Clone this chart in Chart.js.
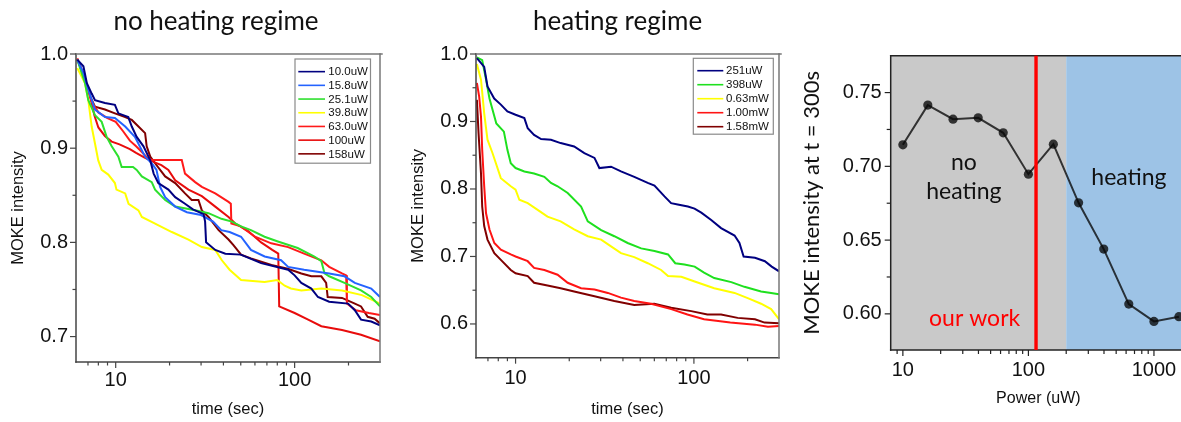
<!DOCTYPE html>
<html>
<head>
<meta charset="utf-8">
<script src="https://cdn.jsdelivr.net/npm/chart.js@4.4.1/dist/chart.umd.min.js"></script>
<style>
  html, body { margin: 0; padding: 0; overflow: hidden; background: #fff; width: 1181px; height: 422px; }
  canvas { position: absolute; top: 0; }
</style>
</head>
<body>
<canvas id="c1" width="400" height="422" style="left:0px"></canvas>
<canvas id="c2" width="400" height="422" style="left:400px"></canvas>
<canvas id="c3" width="400" height="422" style="left:800px"></canvas>
<script>
// ---------------- DATA ----------------
// Panel 1: no heating regime (time in s, normalized MOKE intensity)
const labels1 = ['10.0uW', '15.8uW', '25.1uW', '39.8uW', '63.0uW', '100uW', '158uW'];
const t_10uW = [6.1, 6.6, 6.9, 7.34, 7.66, 8.71, 9.9, 10.35, 11.76, 12.3, 13.1, 14.3, 15.6, 16.3, 17.3, 19.7, 21.5, 24.4, 27, 31, 31.6, 32, 36, 41, 50, 65, 92, 100, 109, 124, 135, 156, 199, 217, 235, 268, 300];
const v_10uW = [0.994, 0.987, 0.969, 0.958, 0.951, 0.948, 0.946, 0.937, 0.933, 0.923, 0.912, 0.902, 0.887, 0.873, 0.863, 0.856, 0.848, 0.841, 0.835, 0.830, 0.822, 0.800, 0.792, 0.788, 0.787, 0.778, 0.771, 0.765, 0.757, 0.751, 0.742, 0.737, 0.735, 0.728, 0.718, 0.716, 0.712];
const t_15uW = [6.1, 6.6, 7.03, 7.66, 8.71, 9.9, 11.3, 12.8, 14.6, 15.9, 16.9, 17.7, 18.9, 21.5, 25, 30, 35, 38.9, 43.3, 50.2, 57, 68, 84, 92, 113, 156, 190, 217, 268, 300];
const v_15uW = [0.994, 0.980, 0.962, 0.941, 0.933, 0.932, 0.923, 0.912, 0.891, 0.884, 0.877, 0.859, 0.848, 0.838, 0.832, 0.829, 0.822, 0.813, 0.811, 0.806, 0.792, 0.785, 0.781, 0.774, 0.771, 0.767, 0.764, 0.757, 0.751, 0.742];
const t_25uW = [6.1, 6.74, 7.03, 7.66, 8.35, 8.9, 9.5, 10.35, 10.8, 12.5, 13.1, 14.0, 15.9, 16.6, 18.9, 21.5, 27.8, 33, 39, 44.6, 50.2, 57, 67.9, 80.6, 104, 129, 141, 147, 156, 190, 235, 268, 300];
const v_25uW = [0.994, 0.969, 0.951, 0.935, 0.928, 0.912, 0.902, 0.891, 0.880, 0.880, 0.877, 0.870, 0.864, 0.856, 0.845, 0.838, 0.834, 0.831, 0.825, 0.822, 0.817, 0.813, 0.806, 0.801, 0.794, 0.785, 0.780, 0.767, 0.764, 0.757, 0.749, 0.742, 0.732];
const t_40uW = [6.1, 6.74, 7.03, 7.34, 7.66, 7.99, 8.35, 9.09, 9.9, 10.1, 11.3, 11.8, 13.4, 14.0, 16.6, 20.6, 25.5, 30.3, 36, 39.2, 43.3, 50.2, 67.9, 80, 88, 95.3, 109, 141, 184, 238, 300];
const v_40uW = [0.985, 0.969, 0.951, 0.923, 0.905, 0.887, 0.877, 0.872, 0.863, 0.856, 0.852, 0.841, 0.834, 0.827, 0.820, 0.811, 0.803, 0.795, 0.792, 0.781, 0.771, 0.760, 0.758, 0.760, 0.754, 0.751, 0.749, 0.751, 0.749, 0.744, 0.735];
const t_63uW = [6.1, 6.7, 7.3, 8, 9, 10, 11, 12, 13, 14, 15, 15.9, 23.4, 24.4, 27.8, 30.3, 36, 42.7, 44, 44.3, 50, 60, 74, 92, 113, 141, 156, 184, 194, 196, 220, 260, 300];
const v_63uW = [0.995, 0.975, 0.950, 0.938, 0.932, 0.928, 0.918, 0.908, 0.902, 0.896, 0.890, 0.8875, 0.8875, 0.873, 0.864, 0.859, 0.852, 0.843, 0.841, 0.820, 0.817, 0.806, 0.799, 0.795, 0.788, 0.781, 0.774, 0.767, 0.765, 0.735, 0.728, 0.725, 0.723];
const t_100uW = [6.1, 6.7, 7.2, 7.6, 8, 8.7, 9.5, 10.5, 12, 13, 14.5, 16, 18, 19.7, 21.5, 25.5, 30.3, 36, 42.7, 46.6, 55, 65, 75, 81, 82, 100, 119, 141, 184, 235, 300];
const v_100uW = [0.995, 0.975, 0.955, 0.935, 0.922, 0.913, 0.907, 0.904, 0.899, 0.895, 0.890, 0.886, 0.882, 0.877, 0.866, 0.856, 0.849, 0.838, 0.827, 0.820, 0.812, 0.800, 0.792, 0.788, 0.732, 0.725, 0.718, 0.711, 0.707, 0.702, 0.695];
const t_158uW = [6.1, 6.7, 7.2, 7.66, 8.71, 9.9, 11.3, 12.3, 13.4, 14.6, 14.9, 15.6, 16.6, 18.9, 21.5, 24.4, 26.6, 29, 30.3, 33, 37.6, 42.7, 45.5, 50.2, 57, 74.2, 91.6, 109, 124, 141, 150, 153, 184, 217, 235, 256, 280, 300];
const v_158uW = [0.994, 0.975, 0.955, 0.944, 0.941, 0.937, 0.933, 0.930, 0.923, 0.916, 0.902, 0.891, 0.884, 0.870, 0.863, 0.852, 0.845, 0.845, 0.834, 0.827, 0.813, 0.803, 0.797, 0.787, 0.783, 0.776, 0.772, 0.767, 0.764, 0.764, 0.757, 0.742, 0.741, 0.735, 0.732, 0.721, 0.719, 0.714];
const colors1 = ['#000080', '#2463FF', '#2EE02E', '#FFFF00', '#FF1A1A', '#E80C0C', '#800000'];

// Panel 2: heating regime
const labels2 = ['251uW', '398uW', '0.63mW', '1.00mW', '1.58mW'];
const t_251uW = [6.07, 6.67, 6.96, 7.59, 8.27, 9.0, 10, 11.2, 11.7, 12.7, 13.9, 15.8, 17.9, 21.3, 24.3, 27.7, 29.5, 34.3, 39, 46.3, 55.1, 60.1, 68.4, 74.5, 81.1, 92.5, 100.8, 110, 125, 142, 169, 180, 190, 220, 250, 273, 300];
const v_251uW = [0.994, 0.981, 0.952, 0.934, 0.925, 0.915, 0.910, 0.905, 0.890, 0.880, 0.874, 0.873, 0.868, 0.863, 0.853, 0.846, 0.831, 0.833, 0.826, 0.818, 0.809, 0.805, 0.789, 0.779, 0.777, 0.774, 0.771, 0.765, 0.754, 0.742, 0.731, 0.720, 0.700, 0.698, 0.693, 0.685, 0.678];
const t_398uW = [6.07, 6.5, 6.83, 7.14, 7.8, 8.6, 9.0, 9.4, 10, 11.2, 12.7, 14.5, 15.8, 17.2, 19.6, 23.3, 25.4, 30.2, 35.8, 42.5, 50.6, 60.1, 71.6, 78.6, 88.5, 101, 114, 130, 162, 192, 238, 271, 300];
const v_398uW = [0.995, 0.991, 0.962, 0.934, 0.897, 0.885, 0.858, 0.838, 0.831, 0.826, 0.823, 0.818, 0.809, 0.804, 0.794, 0.774, 0.752, 0.739, 0.730, 0.720, 0.712, 0.708, 0.703, 0.690, 0.688, 0.685, 0.676, 0.668, 0.662, 0.655, 0.648, 0.646, 0.644];
const t_630uW = [6.07, 6.4, 6.67, 6.96, 7.43, 8.27, 9.4, 10, 10.5, 11.7, 13.3, 15.1, 17.9, 21.3, 25.4, 30.2, 34.3, 39, 46.3, 55.1, 65.5, 71.6, 85, 101, 130, 169, 202, 238, 271, 300];
const v_630uW = [0.985, 0.962, 0.912, 0.873, 0.853, 0.816, 0.804, 0.799, 0.784, 0.779, 0.769, 0.759, 0.752, 0.740, 0.730, 0.725, 0.715, 0.705, 0.699, 0.690, 0.680, 0.671, 0.670, 0.663, 0.653, 0.646, 0.638, 0.630, 0.622, 0.607];
const t_1000uW = [6.07, 6.25, 6.4, 6.5, 6.67, 6.83, 7.14, 7.6, 8.27, 9.4, 10, 11.7, 12.7, 14.5, 17.2, 19.6, 23.3, 27.7, 32.9, 39, 46.3, 57.5, 74.6, 92, 114, 160, 220, 260, 300];
const v_1000uW = [0.957, 0.937, 0.907, 0.858, 0.804, 0.764, 0.740, 0.720, 0.710, 0.703, 0.700, 0.693, 0.683, 0.680, 0.673, 0.661, 0.653, 0.651, 0.646, 0.639, 0.634, 0.630, 0.622, 0.614, 0.607, 0.602, 0.599, 0.596, 0.597];
const t_1580uW = [6.07, 6.2, 6.4, 6.5, 6.67, 6.96, 7.6, 8.27, 9.4, 10, 11.7, 12.7, 15.1, 17.9, 21.3, 27.7, 35.8, 46.3, 60, 74.6, 96.6, 119, 142, 176, 220, 249, 300];
const v_1580uW = [0.932, 0.883, 0.823, 0.774, 0.745, 0.725, 0.705, 0.695, 0.680, 0.675, 0.671, 0.661, 0.657, 0.653, 0.648, 0.641, 0.634, 0.628, 0.630, 0.624, 0.619, 0.614, 0.614, 0.609, 0.607, 0.602, 0.601];
const colors2 = ['#000080', '#1EE01E', '#FFFF00', '#FF1414', '#800000'];

// Panel 3: MOKE intensity at t = 300 s vs power
const power = [10, 15.8, 25.1, 39.8, 63.0, 100, 158, 251, 398, 630, 1000, 1580];
const moke300 = [0.7146, 0.7415, 0.732, 0.7329, 0.7227, 0.6947, 0.715, 0.6753, 0.6439, 0.6066, 0.5949, 0.5981];
const heatingOnset = 200;   // uW, boundary of the heating region
const ourWorkPower = 115;   // uW, red marker line

// Ticks
const xMajor12 = [10, 100];
const xMinor12 = [7, 8, 9, 20, 30, 40, 50, 60, 70, 80, 90, 200, 300];
const yMajor1 = [0.7, 0.8, 0.9, 1.0];
const yMinor1 = [0.75, 0.85, 0.95];
const yMajor2 = [0.6, 0.7, 0.8, 0.9, 1.0];
const yMinor2 = [0.65, 0.75, 0.85, 0.95];
const xMajor3 = [10, 100, 1000];
const xMinor3 = [8, 9, 20, 30, 40, 50, 60, 70, 80, 90, 200, 300, 400, 500, 600, 700, 800, 900];
const yMajor3 = [0.60, 0.65, 0.70, 0.75];
const yMinor3 = [0.625, 0.675, 0.725];

// ---------------- HELPERS / PLUGINS ----------------
const ARIAL = "'Liberation Sans', Arial, sans-serif";
const CAL = "Lato, 'Noto Sans', sans-serif";
Chart.defaults.font.family = ARIAL;
Chart.defaults.color = '#111';

function pts(t, v) { return t.map((x, i) => ({ x: x, y: v[i] })); }
function seg(ctx, x0, y0, x1, y1) { ctx.beginPath(); ctx.moveTo(x0, y0); ctx.lineTo(x1, y1); ctx.stroke(); }

const framePlugin = {
  id: 'frame',
  afterDatasetsDraw(chart, args, o) {
    const { ctx, chartArea: a } = chart;
    const xs = chart.scales.x, ys = chart.scales.y;
    ctx.save();
    ctx.lineWidth = o.width;
    ctx.strokeStyle = o.color;
    ctx.lineCap = 'square';
    if (o.sides.includes('l')) seg(ctx, a.left, a.top, a.left, a.bottom);
    if (o.sides.includes('b')) seg(ctx, a.left, a.bottom, a.right, a.bottom);
    ctx.strokeStyle = o.color2 || o.color;
    if (o.sides.includes('t')) seg(ctx, a.left, a.top, a.right + 2, a.top);
    if (o.sides.includes('r')) seg(ctx, a.right, a.top, a.right, a.bottom);
    ctx.strokeStyle = o.color;
    ctx.lineCap = 'butt';
    ctx.lineWidth = 1.2;
    o.xMajor.forEach(v => { const p = xs.getPixelForValue(v); seg(ctx, p, a.bottom, p, a.bottom + o.major); });
    o.xMinor.forEach(v => { const p = xs.getPixelForValue(v); if (p > a.left + 1 && p < a.right - 1) seg(ctx, p, a.bottom, p, a.bottom + o.minor); });
    o.yMajor.forEach(v => { const p = ys.getPixelForValue(v); seg(ctx, a.left - o.major, p, a.left, p); });
    o.yMinor.forEach(v => { const p = ys.getPixelForValue(v); seg(ctx, a.left - o.minor, p, a.left, p); });
    ctx.restore();
  }
};

const boxLegend = {
  id: 'boxLegend',
  afterDraw(chart, args, o) {
    if (!o.show) return;
    const { ctx, chartArea: a } = chart;
    const ds = chart.data.datasets;
    const x1 = a.right - o.right, x0 = x1 - o.width, y0 = a.top + o.top;
    const h = o.padTop + ds.length * o.rowH + o.padBottom;
    ctx.save();
    ctx.fillStyle = '#fff';
    ctx.fillRect(x0, y0, o.width, h);
    ctx.strokeStyle = '#8a8a8a';
    ctx.lineWidth = 1.2;
    ctx.strokeRect(x0, y0, o.width, h);
    ctx.font = o.font;
    ctx.textBaseline = 'middle';
    ctx.textAlign = 'left';
    ds.forEach((d, i) => {
      const y = y0 + o.padTop + o.rowH * (i + 0.5);
      ctx.strokeStyle = d.borderColor;
      ctx.lineWidth = 1.6;
      seg(ctx, x0 + o.lineStart, y, x0 + o.lineEnd, y);
      ctx.fillStyle = '#111';
      ctx.fillText(d.label, x0 + o.textStart, y + 0.5);
    });
    ctx.restore();
  }
};

const panelTitle = {
  id: 'panelTitle',
  afterDraw(chart, args, o) {
    if (!o.text) return;
    const ctx = chart.ctx;
    ctx.save();
    ctx.font = o.font;
    ctx.fillStyle = '#111';
    ctx.textAlign = 'center';
    ctx.textBaseline = 'alphabetic';
    ctx.fillText(o.text, o.x, o.y);
    ctx.restore();
  }
};

const regions = {
  id: 'regions',
  beforeDatasetsDraw(chart, args, o) {
    if (!o.show) return;
    const { ctx, chartArea: a } = chart;
    const xs = chart.scales.x;
    const xb = xs.getPixelForValue(o.split);
    ctx.save();
    ctx.fillStyle = o.left;
    ctx.fillRect(a.left, a.top, xb - a.left, a.bottom - a.top);
    ctx.fillStyle = o.right;
    ctx.fillRect(xb, a.top, a.right - xb, a.bottom - a.top);
    ctx.restore();
  },
  afterDatasetsDraw(chart, args, o) {
    if (!o.show) return;
    const { ctx, chartArea: a } = chart;
    const xs = chart.scales.x, ys = chart.scales.y;
    ctx.save();
    const xr = xs.getPixelForValue(o.marker);
    ctx.strokeStyle = '#FF0000';
    ctx.lineWidth = 3.4;
    seg(ctx, xr, a.top, xr, a.bottom);
    ctx.textAlign = 'center';
    ctx.textBaseline = 'alphabetic';
    o.notes.forEach(n => {
      ctx.font = o.font;
      ctx.fillStyle = n.color || '#111';
      ctx.fillText(n.text, xs.getPixelForValue(n.x), ys.getPixelForValue(n.y));
    });
    ctx.restore();
  }
};

Chart.register(framePlugin, boxLegend, panelTitle, regions);

function curveSets(list) {
  return list.map(s => ({
    label: s[0], data: pts(s[1], s[2]), borderColor: s[3], backgroundColor: s[3],
    borderWidth: 2, pointRadius: 0, tension: 0, fill: false
  }));
}

function timeScales(yMin, yMax, yMajor, xH, xPad) {
  return {
    x: {
      type: 'logarithmic', min: 6, max: 300,
      grid: { display: false, drawTicks: false }, border: { display: false },
      ticks: { autoSkip: false, maxRotation: 0, padding: xPad, font: { size: 20 }, color: '#111', callback: v => String(v) },
      title: { display: true, text: 'time (sec)', font: { size: 16.5 }, color: '#111', padding: { top: 0, bottom: 3 } },
      afterBuildTicks: s => { s.ticks = xMajor12.map(v => ({ value: v })); },
      afterFit: s => { s.height = xH; }
    },
    y: {
      type: 'linear', min: yMin, max: yMax,
      grid: { display: false, drawTicks: false }, border: { display: false },
      ticks: { autoSkip: false, padding: 8, font: { size: 20 }, color: '#111', callback: v => v.toFixed(1) },
      title: { display: true, text: 'MOKE intensity', font: { size: 16.5 }, color: '#111', padding: { top: 9, bottom: 0 } },
      afterBuildTicks: s => { s.ticks = yMajor.map(v => ({ value: v })); },
      afterFit: s => { s.width = 76; }
    }
  };
}

// ---------------- PANEL 1 ----------------
new Chart(document.getElementById('c1'), {
  type: 'line',
  data: {
    datasets: curveSets([
      [labels1[0], t_10uW, v_10uW, colors1[0]],
      [labels1[1], t_15uW, v_15uW, colors1[1]],
      [labels1[2], t_25uW, v_25uW, colors1[2]],
      [labels1[3], t_40uW, v_40uW, colors1[3]],
      [labels1[4], t_63uW, v_63uW, colors1[4]],
      [labels1[5], t_100uW, v_100uW, colors1[5]],
      [labels1[6], t_158uW, v_158uW, colors1[6]]
    ])
  },
  options: {
    responsive: false, animation: false, devicePixelRatio: 1, parsing: false,
    layout: { padding: { left: 0, right: 20, top: 54, bottom: 0 } },
    plugins: {
      legend: { display: false }, tooltip: { enabled: false },
      frame: { sides: 'lbtr', color: '#444', color2: '#777', width: 1.5, major: 6, minor: 3.5, xMajor: xMajor12, xMinor: xMinor12, yMajor: yMajor1, yMinor: yMinor1 },
      boxLegend: { show: true, right: 9.5, top: 5, width: 75.5, rowH: 13.7, padTop: 5.8, padBottom: 2.5, lineStart: 3.3, lineEnd: 30, textStart: 33.3, font: '11.5px ' + ARIAL },
      panelTitle: { text: 'no heating regime', x: 216, y: 30, font: '26px ' + CAL },
      regions: { show: false }
    },
    scales: timeScales(0.673, 1.0, yMajor1, 60, 6)
  }
});

// ---------------- PANEL 2 ----------------
new Chart(document.getElementById('c2'), {
  type: 'line',
  data: {
    datasets: curveSets([
      [labels2[0], t_251uW, v_251uW, colors2[0]],
      [labels2[1], t_398uW, v_398uW, colors2[1]],
      [labels2[2], t_630uW, v_630uW, colors2[2]],
      [labels2[3], t_1000uW, v_1000uW, colors2[3]],
      [labels2[4], t_1580uW, v_1580uW, colors2[4]]
    ])
  },
  options: {
    responsive: false, animation: false, devicePixelRatio: 1, parsing: false,
    layout: { padding: { left: 0, right: 21, top: 54, bottom: 0 } },
    plugins: {
      legend: { display: false }, tooltip: { enabled: false },
      frame: { sides: 'lbtr', color: '#444', color2: '#777', width: 1.5, major: 6, minor: 3.5, xMajor: xMajor12, xMinor: xMinor12, yMajor: yMajor2, yMinor: yMinor2 },
      boxLegend: { show: true, right: 5.7, top: 4.3, width: 80, rowH: 14, padTop: 5.4, padBottom: 0.5, lineStart: 4, lineEnd: 30, textStart: 32.7, font: '11.5px ' + ARIAL },
      panelTitle: { text: 'heating regime', x: 217.5, y: 30, font: '26px ' + CAL },
      regions: { show: false }
    },
    scales: timeScales(0.55, 1.0, yMajor2, 64.3, 8.5)
  }
});

// ---------------- PANEL 3 ----------------
new Chart(document.getElementById('c3'), {
  type: 'line',
  data: {
    datasets: [{
      label: 'MOKE intensity at t = 300s',
      data: pts(power, moke300),
      borderColor: 'rgba(8,8,8,0.78)', backgroundColor: 'rgba(8,8,8,0.78)',
      pointBackgroundColor: 'rgba(8,8,8,0.78)', pointBorderWidth: 0,
      borderWidth: 2, pointRadius: 4.6, tension: 0, fill: false
    }]
  },
  options: {
    responsive: false, animation: false, devicePixelRatio: 1, parsing: false,
    layout: { padding: { left: 0, right: 14, top: 55.7, bottom: 0 } },
    plugins: {
      legend: { display: false }, tooltip: { enabled: false },
      frame: { sides: 'lbt', color: '#222', width: 1.5, major: 6, minor: 4, xMajor: xMajor3, xMinor: xMinor3, yMajor: yMajor3, yMinor: yMinor3 },
      boxLegend: { show: false },
      regions: {
        show: true, split: heatingOnset, marker: ourWorkPower, left: '#C9C9C9', right: '#9DC3E6',
        font: '23px ' + CAL,
        notes: [
          { text: 'no', x: 30.6, y: 0.6976 },
          { text: 'heating', x: 30.6, y: 0.6778 },
          { text: 'heating', x: 632, y: 0.6875 },
          { text: 'our work', x: 37.3, y: 0.5919, color: '#FF0000' }
        ]
      }
    },
    scales: {
      x: {
        type: 'logarithmic', min: 8, max: 1800,
        grid: { display: false, drawTicks: false }, border: { display: false },
        ticks: { autoSkip: false, maxRotation: 0, padding: 8, font: { size: 20 }, color: '#111', callback: v => String(v) },
        title: { display: true, text: 'Power (uW)', font: { size: 16 }, color: '#111', padding: { top: 0, bottom: 13.4 } },
        afterBuildTicks: s => { s.ticks = xMajor3.map(v => ({ value: v })); },
        afterFit: s => { s.height = 72; }
      },
      y: {
        type: 'linear', min: 0.5755, max: 0.775,
        grid: { display: false, drawTicks: false }, border: { display: false },
        ticks: { autoSkip: false, padding: 9, font: { size: 20 }, color: '#111', callback: v => v.toFixed(2) },
        title: { display: true, text: 'MOKE intensity at t = 300s', font: { size: 22, family: CAL, lineHeight: 1 }, color: '#111', padding: { top: 1, bottom: 0 } },
        afterBuildTicks: s => { s.ticks = yMajor3.map(v => ({ value: v })); },
        afterFit: s => { s.width = 90.7; }
      }
    }
  }
});
</script>
</body>
</html>
